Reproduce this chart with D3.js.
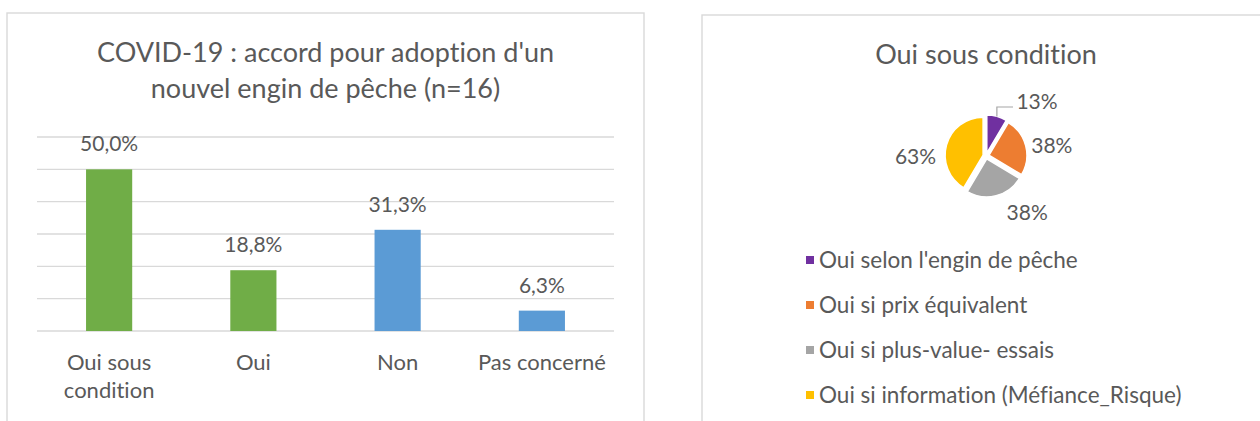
<!DOCTYPE html>
<html>
<head>
<meta charset="utf-8">
<script src="https://cdn.jsdelivr.net/npm/d3@7"></script>
<style>
  html, body { margin: 0; padding: 0; background: #fff; }
  svg { display: block; font-family: Lato, "Open Sans", sans-serif; font-variant-ligatures: none; }
</style>
</head>
<body>
<svg id="chart" width="1260" height="421"></svg>
<script>
// bar chart data
const barTitle = ["COVID-19 : accord pour adoption d'un", "nouvel engin de pêche (n=16)"];
const barCategories = [["Oui sous", "condition"], ["Oui"], ["Non"], ["Pas concerné"]];
const barValues = [50.0, 18.8, 31.3, 6.3];
const barLabels = ["50,0%", "18,8%", "31,3%", "6,3%"];
const yTicks = [0, 10, 20, 30, 40, 50, 60];

// pie chart data
const pieTitle = "Oui sous condition";
const pieCategories = ["Oui selon l'engin de pêche", "Oui si prix équivalent", "Oui si plus-value- essais", "Oui si information (Méfiance_Risque)"];
const pieValues = [13, 38, 38, 63];
const pieLabels = ["13%", "38%", "38%", "63%"];

const textColor = '#595959';
const gridColor = '#D9D9D9';
const barColors = ['#70AD47', '#70AD47', '#5B9BD5', '#5B9BD5'];
const pieColors = ['#7030A0', '#ED7D31', '#A5A5A5', '#FFC000'];

const svg = d3.select('#chart');

// chart frames
svg.append('rect')
  .attr('x', 7).attr('y', 13)
  .attr('width', 637).attr('height', 430)
  .attr('fill', 'none').attr('stroke', gridColor).attr('stroke-width', 1.4);

svg.append('rect')
  .attr('x', 702).attr('y', 15)
  .attr('width', 600).attr('height', 430)
  .attr('fill', 'none').attr('stroke', gridColor).attr('stroke-width', 1.4);

// ---------- bar chart ----------
const x = d3.scaleBand()
  .domain(d3.range(barValues.length))
  .range([37, 614])
  .padding(0);

const y = d3.scaleLinear()
  .domain([0, 60])
  .range([331, 137]);

const barW = x.bandwidth() * 0.32;

svg.append('g')
  .selectAll('text')
  .data(barTitle)
  .join('text')
  .attr('x', (x.range()[0] + x.range()[1]) / 2)
  .attr('y', (d, i) => 62 + i * 36)
  .attr('text-anchor', 'middle')
  .attr('font-size', 27)
  .attr('fill', textColor)
  .text(d => d);

svg.append('g')
  .selectAll('line')
  .data(yTicks)
  .join('line')
  .attr('x1', 37).attr('x2', 614)
  .attr('y1', d => y(d)).attr('y2', d => y(d))
  .attr('stroke', gridColor)
  .attr('stroke-width', 1.4);

svg.append('g')
  .selectAll('rect')
  .data(barValues)
  .join('rect')
  .attr('x', (d, i) => x(i) + (x.bandwidth() - barW) / 2)
  .attr('y', d => y(d))
  .attr('width', barW)
  .attr('height', d => y(0) - y(d))
  .attr('fill', (d, i) => barColors[i]);

svg.append('g')
  .selectAll('text')
  .data(barValues)
  .join('text')
  .attr('x', (d, i) => x(i) + x.bandwidth() / 2)
  .attr('y', d => y(d) - 18)
  .attr('text-anchor', 'middle')
  .attr('font-size', 21)
  .attr('fill', textColor)
  .text((d, i) => barLabels[i]);

const cat = svg.append('g')
  .selectAll('text')
  .data(barCategories)
  .join('text')
  .attr('text-anchor', 'middle')
  .attr('font-size', 22)
  .attr('fill', textColor);

cat.selectAll('tspan')
  .data((d, i) => d.map(s => ({ s, i })))
  .join('tspan')
  .attr('x', d => x(d.i) + x.bandwidth() / 2)
  .attr('y', (d, j) => 370 + j * 28)
  .text(d => d.s);

// ---------- pie chart ----------
const cx = 986, cy = 156, r = 38, explode = 3;

svg.append('text')
  .attr('x', cx).attr('y', 64)
  .attr('text-anchor', 'middle')
  .attr('font-size', 27)
  .attr('fill', textColor)
  .text(pieTitle);

const pie = d3.pie().sort(null).value(d => d);
const arcs = pie(pieValues);
const arc = d3.arc().innerRadius(0).outerRadius(r);
const mid = d => (d.startAngle + d.endAngle) / 2;

const pieG = svg.append('g').attr('transform', `translate(${cx}, ${cy})`);

pieG.selectAll('path')
  .data(arcs)
  .join('path')
  .attr('transform', d => `translate(${Math.sin(mid(d)) * explode}, ${-Math.cos(mid(d)) * explode})`)
  .attr('d', arc)
  .attr('fill', (d, i) => pieColors[i])
  .attr('stroke', '#fff')
  .attr('stroke-width', 1.5)
  .attr('stroke-linejoin', 'round');

// Excel "best fit" label placement: along the bisector, then nudged
const labelR = 70;
const labelNudge = [[0, 0], [-2, 7], [24, -11], [-3, 19]];
const labelPos = arcs.map((d, i) => [
  Math.sin(mid(d)) * labelR + labelNudge[i][0],
  -Math.cos(mid(d)) * labelR + labelNudge[i][1]
]);
// the small slice label is pulled out with a leader line
labelPos[0] = [51, -54];

const a0 = arcs[0];
const lx = Math.sin(mid(a0)) * (r + explode);
const ly = -Math.cos(mid(a0)) * (r + explode);
pieG.append('path')
  .attr('d', `M${lx},${ly}V${labelPos[0][1] + 5}H${labelPos[0][0] - 24}`)
  .attr('fill', 'none')
  .attr('stroke', '#A6A6A6')
  .attr('stroke-width', 1.2);

pieG.selectAll('text')
  .data(arcs)
  .join('text')
  .attr('x', (d, i) => labelPos[i][0])
  .attr('y', (d, i) => labelPos[i][1])
  .attr('dy', '0.35em')
  .attr('text-anchor', 'middle')
  .attr('font-size', 21)
  .attr('fill', textColor)
  .text((d, i) => pieLabels[i]);

const legend = svg.append('g')
  .selectAll('g')
  .data(pieCategories)
  .join('g')
  .attr('transform', (d, i) => `translate(806, ${260 + i * 45})`);

legend.append('rect')
  .attr('x', 0).attr('y', -4)
  .attr('width', 8).attr('height', 8)
  .attr('fill', (d, i) => pieColors[i]);

legend.append('text')
  .attr('x', 13)
  .attr('dy', '0.35em')
  .attr('font-size', 22.5)
  .attr('fill', textColor)
  .text(d => d);
</script>
</body>
</html>
